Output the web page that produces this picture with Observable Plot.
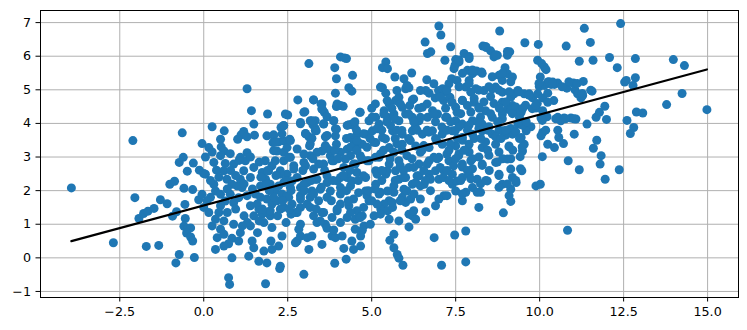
<!DOCTYPE html>
<html><head><meta charset="utf-8">
<script src="https://cdn.jsdelivr.net/npm/d3@7"></script>
<script src="https://cdn.jsdelivr.net/npm/@observablehq/plot@0.6"></script>
<style>body{margin:0;background:#fff;} svg{display:block;}</style>
</head><body><div id="chart"></div>
<script>
// Scatter values, grouped by region
const pointsLeft = [[-3.94,2.08],[-2.11,3.49],[-2.69,0.45],[-2.05,1.79],[-1.71,0.34],[-1.34,0.37],[-1.93,1.17],[-1.79,1.32],[-1.66,1.39],[-1.48,1.47],[-1.29,1.73],[-1.09,1.61],[-1.01,2.19],[-0.87,2.28],[-0.93,1.24],[-0.81,1.37],[-0.73,0.10],[-0.83,-0.15],[-0.28,0.01],[-0.64,3.72],[-0.73,2.84],[-0.61,2.99],[-0.31,2.82],[-0.49,2.58],[-0.59,2.07],[-0.33,2.03],[-0.56,1.59],[-0.55,1.17],[-0.59,0.94],[-0.48,0.87],[-0.39,0.89],[-0.51,0.74],[-0.39,0.62],[-0.33,0.50],[-0.13,2.61],[-0.15,1.73]];

const pointsUpperA = [[3.13,5.78],[4.07,5.98],[4.19,5.95],[4.25,5.93],[3.90,5.66],[3.95,5.33],[4.43,5.43],[4.32,5.06],[4.41,4.96],[3.92,4.90],[1.29,5.03],[2.80,4.70],[3.27,4.70],[3.49,4.58],[3.52,4.43],[3.59,4.33],[3.97,4.58],[4.07,4.53],[4.15,4.51],[3.95,4.50],[3.01,4.35],[1.42,4.38],[1.90,4.28],[2.50,4.25],[4.64,4.33],[3.67,4.20],[3.87,4.08],[2.88,4.03],[3.17,4.08],[3.32,4.08],[3.25,3.96],[3.57,3.98],[4.32,3.96],[4.41,3.98],[4.48,3.93],[1.49,3.98],[2.38,3.93],[2.30,3.88],[0.25,3.90],[0.61,3.78],[1.19,3.76],[1.11,3.66],[1.01,3.53],[1.29,3.60],[1.51,3.65],[1.88,3.63],[2.08,3.66],[2.06,3.43],[2.23,3.45],[2.38,3.48],[2.56,3.53],[3.03,3.70],[3.13,3.60],[3.22,3.56],[3.35,3.78],[3.32,3.85],[3.62,3.60],[3.95,3.83],[3.92,3.63],[3.95,3.38],[4.37,3.58],[4.56,3.66],[4.48,3.43],[4.64,3.40],[3.15,3.33],[0.50,3.53],[0.52,3.30],[0.60,3.18],[0.15,3.28],[-0.05,3.40],[0.79,3.10],[1.29,3.13],[3.67,3.26],[3.52,3.18],[4.27,3.23],[4.56,3.20],[2.18,3.18],[2.48,3.28]];

const pointsLowerA = [[0.64,2.81],[0.38,2.61],[0.00,2.51],[0.05,2.49],[1.09,2.99],[1.24,2.89],[1.39,3.00],[1.49,2.69],[1.74,2.54],[2.03,2.74],[1.84,2.34],[0.30,2.19],[0.35,1.99],[0.50,1.89],[0.20,1.80],[-0.05,1.89],[0.10,1.70],[0.00,1.50],[0.69,2.34],[0.84,2.19],[0.99,2.14],[1.14,2.09],[0.79,1.89],[0.64,1.69],[0.89,1.64],[1.04,1.79],[0.50,1.55],[0.45,1.35],[0.35,1.15],[0.60,1.10],[0.25,0.95],[0.50,0.85],[0.89,1.00],[1.39,0.95],[1.49,1.25],[1.64,1.45],[1.74,1.30],[1.88,1.35],[1.98,1.25],[1.29,1.85],[1.54,1.90],[1.69,1.80],[1.59,1.60],[1.39,1.55],[1.88,1.75],[2.03,1.60],[2.13,2.00],[2.33,1.90],[1.69,2.14],[1.98,2.19],[2.38,2.24],[2.58,2.09],[2.53,1.80],[2.63,1.60],[2.73,1.35],[2.88,1.50],[3.08,1.60],[3.27,1.25],[3.52,1.35],[3.42,1.70],[3.17,1.80],[2.88,1.85],[3.37,1.05],[3.62,1.00],[3.82,1.20],[3.97,1.40],[4.07,1.60],[4.27,1.20],[4.51,1.15],[4.56,1.40],[4.32,1.55],[2.03,0.90],[2.33,0.65],[2.23,0.35],[2.03,0.25],[1.79,0.20],[1.49,0.30],[1.44,0.50],[1.34,0.05],[1.64,-0.10],[1.88,-0.15],[2.28,-0.25],[2.26,-0.32],[1.84,-0.77],[0.84,0.58],[1.04,0.50],[1.09,0.75],[0.74,0.42],[0.60,0.35],[0.35,0.25],[0.84,0.00],[0.74,-0.59],[0.77,-0.79],[2.83,0.85],[2.88,0.65],[2.78,0.50],[3.08,0.60],[3.22,0.65],[3.13,0.25],[2.73,0.45],[2.98,-0.49],[3.52,0.40],[3.82,0.65],[3.92,0.60],[4.12,0.65],[4.17,0.28],[4.41,0.50],[4.46,0.25],[4.24,-0.04],[3.90,-0.16],[4.51,0.85],[3.67,0.88],[3.87,0.83],[2.38,2.89],[2.68,2.74],[2.98,2.84],[3.27,2.64],[3.57,2.79],[3.87,2.89],[4.17,2.69],[4.46,2.79],[4.56,2.54],[4.27,2.39],[3.97,2.29],[3.67,2.44],[3.37,2.34],[3.08,2.24],[2.78,2.39],[2.48,2.49],[2.28,2.59],[2.58,2.99],[3.17,3.04],[3.77,3.04],[4.37,3.04],[3.47,2.04],[3.77,1.99],[4.07,2.09],[4.37,2.14],[4.61,1.94],[2.88,2.09],[3.22,1.99],[2.28,1.45],[2.18,1.70],[0.05,3.00],[0.30,2.84],[0.50,3.04],[0.89,2.79],[1.19,2.59],[0.60,2.59],[1.39,2.39],[1.09,2.34]];

const pointsUpperB = [[7.00,6.90],[7.06,6.63],[8.81,6.75],[6.59,6.42],[6.66,6.08],[6.76,6.13],[7.35,6.28],[7.18,5.88],[8.31,6.30],[8.41,6.26],[8.54,6.16],[9.11,6.13],[9.04,6.03],[8.64,5.98],[8.74,6.03],[7.75,6.08],[7.90,5.93],[7.50,5.90],[7.60,5.83],[5.42,5.83],[5.32,5.66],[5.47,5.63],[5.69,5.38],[5.96,5.33],[6.19,5.50],[6.64,5.30],[6.61,4.98],[6.71,4.90],[7.38,5.33],[7.30,5.18],[7.45,5.63],[7.48,5.73],[7.85,5.58],[8.00,5.48],[8.12,5.56],[8.27,5.53],[7.90,5.28],[7.80,5.08],[7.95,4.93],[8.10,5.03],[8.79,5.43],[8.89,5.28],[8.97,5.66],[9.04,5.48],[9.19,5.38],[8.34,4.98],[8.59,5.03],[8.69,5.08],[8.54,4.80],[5.32,5.06],[5.42,4.90],[6.01,5.03],[6.11,5.06],[6.21,4.70],[6.13,4.53],[5.91,4.48],[5.71,4.68],[5.81,4.78],[6.99,4.98],[7.11,5.03],[7.19,4.93],[6.89,4.76],[7.14,4.68],[7.33,4.78],[8.89,4.93],[9.14,4.78],[9.24,4.88],[9.19,4.53],[8.89,4.63],[9.04,4.43],[7.50,4.48],[7.70,4.68],[7.85,4.53],[8.05,4.63],[8.19,4.48],[8.39,4.38],[6.51,4.48],[6.81,4.38],[6.66,4.18],[6.96,4.28],[7.20,4.18],[5.52,4.58],[5.37,4.38],[5.12,4.18],[4.92,4.08],[5.22,3.98],[5.47,4.18],[5.66,4.28],[5.81,4.08],[6.01,4.28],[6.21,4.18],[6.41,4.08],[7.50,4.08],[7.70,3.98],[8.00,4.08],[8.29,3.98],[8.59,4.18],[8.89,4.28],[9.14,4.38],[4.82,3.68],[5.02,3.78],[5.32,3.58],[5.62,3.78],[5.91,3.68],[6.21,3.78],[6.51,3.68],[6.81,3.78],[7.10,3.68],[7.40,3.78],[7.70,3.58],[8.00,3.68],[8.29,3.78],[8.59,3.68],[8.89,3.78],[9.19,3.68],[4.72,3.38],[5.12,3.43],[5.52,3.28],[5.91,3.38],[6.31,3.33],[6.71,3.28],[7.10,3.38],[7.50,3.33],[7.90,3.38],[8.29,3.28],[8.69,3.38],[9.09,3.33]];

const pointsLowerB = [[5.66,1.95],[5.81,2.34],[5.52,1.70],[5.37,1.60],[5.27,1.45],[5.47,1.40],[5.62,1.50],[4.72,1.25],[5.07,1.25],[4.77,0.95],[4.72,0.82],[4.67,0.65],[4.67,0.35],[5.52,1.15],[5.81,1.10],[6.11,0.92],[6.21,1.25],[6.31,1.15],[6.11,1.30],[6.61,1.37],[6.01,1.65],[6.16,1.75],[5.91,1.80],[6.26,1.90],[5.96,2.04],[6.21,2.19],[6.31,2.24],[6.56,2.19],[6.90,2.59],[7.00,2.34],[7.15,1.85],[7.00,1.75],[5.66,0.70],[5.54,0.52],[5.66,0.30],[5.76,0.10],[5.81,-0.01],[5.93,-0.22],[6.86,0.60],[7.47,0.68],[7.80,0.80],[7.08,-0.22],[7.80,-0.12],[7.40,2.19],[7.50,1.99],[7.70,1.70],[7.80,1.95],[8.00,2.09],[8.19,1.50],[8.24,1.95],[8.14,2.34],[8.29,2.79],[8.69,2.84],[9.04,2.94],[9.14,2.64],[8.79,2.49],[8.89,2.19],[9.14,2.04],[9.19,2.39],[9.14,1.68],[8.92,1.34],[8.44,2.29],[7.70,2.39],[7.90,2.49],[7.70,2.79],[7.95,2.89],[7.40,2.49],[7.15,2.59],[4.92,2.89],[5.22,2.99],[5.52,2.79],[5.81,2.89],[6.11,2.69],[6.41,2.79],[6.71,2.89],[7.00,2.99],[7.30,2.89],[5.12,2.59],[5.42,2.49],[5.71,2.59],[6.01,2.39],[6.41,2.44],[6.71,2.49],[4.82,2.39],[5.12,2.19],[4.82,1.99],[4.92,1.70],[5.22,1.90],[5.47,1.99]];

const pointsUpperC = [[11.33,6.83],[11.51,6.41],[9.56,6.40],[9.96,6.35],[10.79,6.30],[11.18,5.85],[11.59,5.88],[9.94,5.88],[10.06,5.78],[10.14,5.68],[10.19,5.60],[10.02,5.38],[10.24,5.23],[10.39,5.23],[10.54,5.20],[10.44,5.16],[10.34,5.16],[10.14,5.13],[9.99,5.10],[11.01,5.20],[11.30,5.25],[10.81,5.05],[11.05,5.00],[11.13,4.88],[11.23,4.76],[11.28,4.83],[11.56,4.96],[9.35,4.98],[9.54,4.88],[9.69,4.88],[9.79,4.76],[9.94,4.88],[10.09,4.76],[10.24,4.90],[10.42,4.68],[10.24,4.63],[9.89,4.46],[10.09,4.38],[10.22,4.20],[10.04,4.16],[9.35,4.38],[9.45,4.33],[9.40,4.18],[10.54,4.18],[10.73,4.16],[10.93,4.16],[11.08,4.13],[10.63,4.08],[11.41,3.98],[11.68,4.18],[11.78,4.33],[9.35,3.98],[9.54,3.93],[9.74,3.90],[9.60,3.78],[9.45,3.58],[9.54,3.38],[9.49,3.18],[10.09,3.73],[10.04,3.63],[10.54,3.80],[10.57,3.58],[11.03,3.68],[11.70,3.50],[10.24,3.38],[10.44,3.28],[10.71,3.40],[11.60,3.26]];

const pointsRight = [[12.41,6.97],[12.08,5.96],[12.85,5.93],[12.31,5.66],[13.98,5.90],[14.31,5.72],[12.53,5.23],[12.58,5.28],[12.85,5.36],[12.78,5.13],[14.24,4.89],[13.78,4.56],[14.98,4.41],[11.94,4.51],[12.88,4.34],[13.07,4.31],[11.99,4.12],[12.60,4.09],[12.80,3.88],[12.70,3.70]];

const pointsLowerC = [[9.42,3.01],[10.08,3.01],[11.83,3.04],[11.80,2.79],[10.85,2.89],[11.18,2.62],[11.95,2.34],[12.37,2.62],[9.47,2.59],[9.30,2.24],[9.89,2.14],[10.02,2.19],[10.83,0.82]];

// Extra points read from close-ups of the crowded centre
const pointsCoreLeft = [[3.27,4.70],[3.52,4.58],[3.52,4.43],[3.97,4.53],[2.43,4.28],[2.98,4.33],[2.88,3.99],[3.22,4.08],[3.57,3.99],[3.87,4.08],[4.27,3.94],[4.66,4.33],[2.08,3.64],[2.38,3.94],[2.33,3.69],[2.58,3.49],[2.13,3.44],[3.03,3.69],[3.32,3.79],[3.67,3.64],[3.92,3.84],[3.62,3.34],[3.17,3.39],[2.78,3.24],[2.38,3.14],[2.08,3.19],[1.83,2.89],[2.13,2.89],[2.53,2.99],[2.98,3.09],[3.37,3.14],[3.77,3.19],[4.07,3.14],[4.37,3.29],[4.56,3.49],[4.76,3.69],[4.86,3.29],[4.66,3.04],[1.93,2.59],[2.28,2.49],[2.68,2.64],[3.03,2.74],[3.42,2.79],[3.82,2.89],[4.22,2.94],[4.51,2.79],[4.86,2.89],[5.11,2.99],[1.88,2.19],[2.23,2.14],[2.63,2.29],[2.98,2.19],[3.32,2.34],[3.67,2.24],[4.07,2.39],[4.41,2.29],[4.76,2.44],[5.16,2.49],[5.46,2.59],[2.08,1.80],[2.48,1.85],[2.88,1.75],[3.27,1.90],[3.67,1.80],[4.07,1.90],[4.46,1.75],[4.86,1.85],[5.26,1.95],[5.66,2.14],[1.98,1.40],[2.38,1.50],[2.78,1.35],[3.17,1.50],[3.57,1.35],[3.97,1.45],[4.37,1.35],[4.76,1.50],[5.16,1.60],[5.61,1.65],[1.79,1.05],[2.88,1.00],[3.47,1.10],[4.07,1.05],[4.66,1.20],[4.96,1.00],[0.20,2.30],[0.45,2.40],[0.70,2.05],[0.95,2.45],[1.20,2.20],[1.45,2.05],[1.70,2.40],[1.95,2.00],[0.15,1.35],[0.70,1.35],[0.95,1.45],[1.20,1.25],[1.30,1.05],[1.65,1.10],[2.20,1.25],[2.45,1.05],[2.60,1.30],[0.25,3.15],[0.80,2.60],[1.05,2.90],[1.65,2.85],[1.90,2.60],[2.15,2.45],[0.40,0.60],[0.60,0.70],[1.15,0.95],[1.60,0.75],[2.00,0.50]];

const pointsCoreMid = [[5.26,5.08],[5.75,4.98],[6.05,5.13],[6.45,4.98],[6.85,5.18],[7.24,4.98],[7.54,5.28],[5.11,4.58],[5.46,4.68],[5.85,4.58],[6.25,4.73],[6.65,4.58],[7.04,4.78],[7.39,4.63],[5.01,4.18],[5.36,4.28],[5.70,4.13],[6.10,4.28],[6.45,4.18],[6.85,4.28],[7.24,4.18],[7.54,4.33],[5.16,3.84],[5.56,3.94],[5.90,3.79],[6.30,3.89],[6.70,3.74],[7.09,3.89],[7.49,3.79],[5.06,3.44],[5.41,3.54],[5.75,3.39],[6.15,3.49],[6.55,3.34],[6.94,3.49],[7.34,3.39],[5.26,3.09],[5.66,3.14],[6.05,3.04],[6.45,3.14],[6.85,2.99],[7.24,3.09],[7.59,3.04],[5.85,2.74],[6.25,2.69],[6.65,2.79],[7.04,2.69],[7.44,2.74],[5.95,2.39],[6.35,2.44],[6.75,2.34],[7.14,2.39],[7.54,2.29],[6.05,1.99],[6.45,2.14],[7.24,1.85],[5.85,1.70],[6.25,1.40],[5.26,1.30]];

const pointsCoreRight = [[7.60,5.89],[7.90,5.99],[8.39,6.29],[8.69,6.04],[9.04,6.14],[7.70,5.49],[8.00,5.59],[8.29,5.49],[8.59,5.39],[8.89,5.49],[9.14,5.24],[7.60,5.09],[7.90,5.19],[8.19,4.99],[8.49,5.09],[8.79,4.99],[9.09,4.94],[9.38,4.94],[9.68,4.84],[9.98,5.19],[10.28,5.24],[7.70,4.69],[8.05,4.74],[8.34,4.64],[8.64,4.59],[8.99,4.64],[9.29,4.49],[9.58,4.54],[9.93,4.59],[7.65,4.29],[7.95,4.34],[8.24,4.19],[8.54,4.29],[8.89,4.14],[9.19,4.29],[9.43,4.39],[9.78,4.44],[7.60,3.90],[7.90,3.95],[8.19,3.85],[8.49,3.90],[8.79,3.80],[9.14,3.85],[9.48,3.95],[7.70,3.50],[8.05,3.55],[8.39,3.45],[8.69,3.60],[8.99,3.65],[9.29,3.75],[7.60,3.10],[7.90,3.15],[8.19,3.00],[8.49,3.05],[8.79,3.15],[9.09,3.30],[9.48,3.30],[7.70,2.70],[8.00,2.65],[8.29,2.75],[8.74,2.85],[9.14,2.95],[9.43,2.65],[7.65,2.30],[7.95,2.35],[8.24,2.20],[8.79,2.45],[9.04,2.20],[9.29,2.30],[7.70,1.90],[8.14,1.95],[8.79,2.10],[9.09,1.85],[10.38,5.19],[10.67,5.09],[10.87,5.24],[11.12,5.19],[11.27,4.89],[11.52,4.99],[10.48,4.14],[10.77,4.14],[11.02,4.14],[10.08,4.09],[9.88,4.54],[10.18,3.80]];

const pointsCoreFill = [[5.00,4.45],[5.60,4.45],[6.40,4.45],[7.20,4.45],[8.20,4.45],[8.80,4.45],[9.50,4.45],[4.50,4.05],[5.45,4.05],[6.25,4.05],[6.90,4.05],[7.35,4.05],[8.15,4.05],[8.75,4.05],[9.60,4.05],[4.55,3.80],[5.30,3.80],[5.75,3.80],[6.35,3.80],[6.65,3.80],[7.25,3.80],[7.85,3.80],[8.45,3.80],[9.00,3.80],[4.25,3.55],[4.95,3.55],[5.70,3.55],[6.10,3.55],[6.90,3.55],[7.55,3.55],[8.25,3.55],[8.85,3.55],[9.40,3.55],[3.90,3.20],[4.55,3.20],[5.35,3.20],[5.90,3.20],[6.50,3.20],[7.30,3.20],[7.75,3.20],[8.45,3.20],[9.20,3.20],[3.25,2.95],[4.00,2.95],[4.70,2.95],[5.55,2.95],[6.20,2.95],[6.95,2.95],[7.50,2.95],[8.00,2.95],[8.90,2.95],[2.95,2.60],[3.60,2.60],[4.35,2.60],[5.30,2.60],[5.95,2.60],[6.55,2.60],[7.25,2.60],[7.85,2.60],[8.50,2.60],[2.45,2.30],[3.20,2.30],[3.85,2.30],[4.60,2.30],[5.30,2.30],[6.60,2.30],[7.30,2.30],[8.40,2.30],[2.60,2.00],[3.00,2.00],[4.25,2.00],[4.90,2.00],[6.75,2.00],[2.35,1.70],[3.80,1.70],[4.30,1.70],[5.00,1.70],[1.75,1.45],[2.55,1.45],[3.35,1.45],[5.70,2.30],[6.45,1.75],[6.90,1.55],[5.10,2.05],[4.15,2.45],[3.50,2.10]];

// Fitted line
const fitSlope = 0.27;
const fitIntercept = 1.56;

// Axes
const xTicks = [-2.5, 0, 2.5, 5, 7.5, 10, 12.5, 15];
const yTicks = [-1, 0, 1, 2, 3, 4, 5, 6, 7];
const xDomain = [-4.86, 15.92];
const yDomain = [-1.18, 7.36];

const points = [].concat(pointsLeft, pointsUpperA, pointsLowerA, pointsUpperB, pointsLowerB, pointsUpperC, pointsRight, pointsLowerC, pointsCoreLeft, pointsCoreMid, pointsCoreRight, pointsCoreFill)
  .map(([x, y]) => ({x, y}));
const fit = d3.extent(points, d => d.x).map(x => ({x, y: fitIntercept + fitSlope * x}));

const chart = Plot.plot({
  width: 747, height: 330,
  marginLeft: 40, marginTop: 10, marginRight: 9, marginBottom: 33,
  style: {fontFamily: "DejaVu Sans", fontSize: "12.7px", color: "black", background: "white"},
  x: {domain: xDomain, label: null},
  y: {domain: yDomain, label: null},
  marks: [
    Plot.gridX(xTicks, {stroke: "#b0b0b0", strokeOpacity: 1, strokeWidth: 1}),
    Plot.gridY(yTicks, {stroke: "#b0b0b0", strokeOpacity: 1, strokeWidth: 1}),
    Plot.dot(points, {x: "x", y: "y", r: 4.5, fill: "#1f77b4"}),
    Plot.line(fit, {x: "x", y: "y", stroke: "black", strokeWidth: 2.2}),
    Plot.frame({stroke: "black", strokeWidth: 1}),
    Plot.axisX(xTicks, {tickFormat: d3.format(".1f"), tickSize: 4.5, tickPadding: 5, label: null, fontSize: 12.7}),
    Plot.axisY(yTicks, {tickFormat: d3.format("d"), tickSize: 4.5, tickPadding: 5, label: null, fontSize: 12.7})
  ]
});
document.getElementById("chart").append(chart);
</script>
</body></html>
